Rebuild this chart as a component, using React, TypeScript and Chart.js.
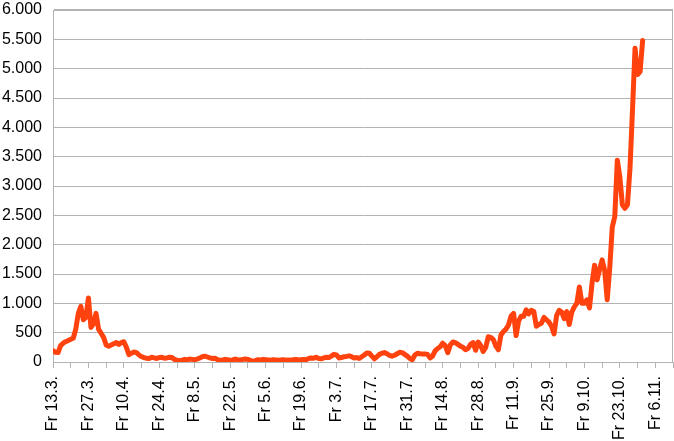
import React, { useEffect, useRef } from "react";
import { Chart, registerables } from "chart.js";

Chart.register(...registerables);

// Daily values starting Friday 13.3. (day index 0)
const dailyValues: number[] = [
  193, 165, 160, 280, 320, 346, 365, 387, 405, 560,
  830, 950, 720, 760, 1090, 590, 650, 830, 560, 490,
  420, 290, 270, 290, 310, 330, 300, 330, 346, 250,
  125, 150, 170, 160, 120, 90, 75, 63, 60, 80,
  70, 60, 75, 80, 65, 70, 80, 75, 45, 30,
  20, 30, 45, 40, 50, 45, 40, 50, 70, 90,
  100, 85, 70, 60, 65, 40, 30, 35, 45, 40,
  30, 35, 50, 40, 35, 45, 50, 45, 30, 10,
  25, 40, 35, 45, 40, 35, 30, 40, 35, 30,
  35, 40, 30, 35, 30, 40, 45, 35, 40, 45,
  40, 60, 70, 65, 80, 60, 55, 70, 80, 75,
  100, 130, 120, 70, 75, 90, 95, 105, 90, 70,
  75, 60, 90, 120, 155, 150, 100, 55, 90, 130,
  150, 160, 140, 110, 100, 115, 140, 165, 160, 130,
  100, 60, 40, 120, 150, 140, 135, 135, 130, 70,
  100, 190, 230, 260, 320, 280, 160, 290, 340, 330,
  300, 270, 250, 210, 230, 300, 330, 200, 340, 280,
  180, 250, 430, 420, 380, 270, 210, 460, 520, 560,
  630, 780, 830, 450, 700, 780, 780, 890, 820, 880,
  860, 610, 640, 660, 760, 720, 680, 610, 480, 790,
  880, 850, 740, 860, 640, 850, 940, 1000, 1280, 1000,
  1000, 1060, 920, 1340, 1650, 1400, 1580, 1740, 1560, 1060,
  1600, 2300, 2480, 3440, 3150, 2680, 2620, 2680, 3300, 4300,
  5350, 4900, 4950, 5480,
];

// Labels every 14 days (every second weekly tick)
const xTickLabels: string[] = [
  "Fr 13.3.", "Fr 27.3.", "Fr 10.4.", "Fr 24.4.", "Fr 8.5.", "Fr 22.5.",
  "Fr 5.6.", "Fr 19.6.", "Fr 3.7.", "Fr 17.7.", "Fr 31.7.", "Fr 14.8.",
  "Fr 28.8.", "Fr 11.9.", "Fr 25.9.", "Fr 9.10.", "Fr 23.10.", "Fr 6.11.",
];

const xMaxDay = 245;
const yMax = 6000;
const yStep = 500;

function fmtThousands(v: number): string {
  const s = String(Math.round(v));
  return s.replace(/\B(?=(\d{3})+(?!\d))/g, ".");
}

const framePlugin = {
  id: "frame",
  afterDraw(chart: any) {
    const { ctx, chartArea } = chart;
    ctx.save();
    ctx.strokeStyle = "#b3b3b3";
    ctx.lineWidth = 1;
    const x = Math.round(chartArea.right) - 0.5;
    ctx.beginPath();
    ctx.moveTo(x, chartArea.top);
    ctx.lineTo(x, chartArea.bottom);
    ctx.stroke();
    ctx.restore();
  },
};

export default function App() {
  const canvasRef = useRef<HTMLCanvasElement | null>(null);

  useEffect(() => {
    if (!canvasRef.current) return;
    const chart = new Chart(canvasRef.current, {
      type: "line",
      data: {
        datasets: [
          {
            data: dailyValues.map((v, i) => ({ x: i, y: v })),
            borderColor: "#ff420e",
            backgroundColor: "#ff420e",
            borderWidth: 5,
            pointRadius: 0,
            tension: 0,
            borderJoinStyle: "round",
            borderCapStyle: "round",
          },
        ],
      },
      options: {
        animation: false,
        responsive: false,
        maintainAspectRatio: false,
        layout: { padding: { top: 10, right: 1, left: 0, bottom: 0 } },
        plugins: {
          legend: { display: false },
          tooltip: { enabled: false },
        },
        scales: {
          x: {
            type: "linear",
            min: 0,
            max: xMaxDay,
            afterFit: (scale: any) => {
              scale.height = 79;
              scale.paddingLeft = 0;
              scale.paddingRight = 0;
            },
            ticks: {
              stepSize: 7,
              autoSkip: false,
              minRotation: 90,
              maxRotation: 90,
              padding: 8,
              color: "#000",
              font: { family: "Liberation Sans", size: 16 },
              callback: (value: any) => {
                const v = Number(value);
                if (v % 14 === 0) return xTickLabels[v / 14] ?? "";
                return "";
              },
            },
            grid: {
              drawOnChartArea: false,
              drawTicks: true,
              tickLength: 6,
              color: "#b3b3b3",
            },
            border: { color: "#b3b3b3" },
          },
          y: {
            min: 0,
            max: yMax,
            afterFit: (scale: any) => {
              scale.width = 53;
              scale.paddingTop = 0;
              scale.paddingBottom = 0;
            },
            ticks: {
              stepSize: yStep,
              padding: 11,
              color: "#000",
              font: { family: "Liberation Sans", size: 16 },
              callback: (value: any) => fmtThousands(Number(value)),
            },
            grid: {
              color: "#b3b3b3",
              drawTicks: false,
              lineWidth: (ctx: any) => (ctx.tick && ctx.tick.value === yMax ? 2 : 1),
            },
            border: { color: "#b3b3b3" },
          },
        },
      },
      plugins: [framePlugin],
    });
    return () => chart.destroy();
  }, []);

  return (
    <div style={{ position: "fixed", left: 0, top: 0, width: 674, height: 441, background: "#fff" }}>
      <canvas ref={canvasRef} width={674} height={441} style={{ width: 674, height: 441 }} />
    </div>
  );
}
